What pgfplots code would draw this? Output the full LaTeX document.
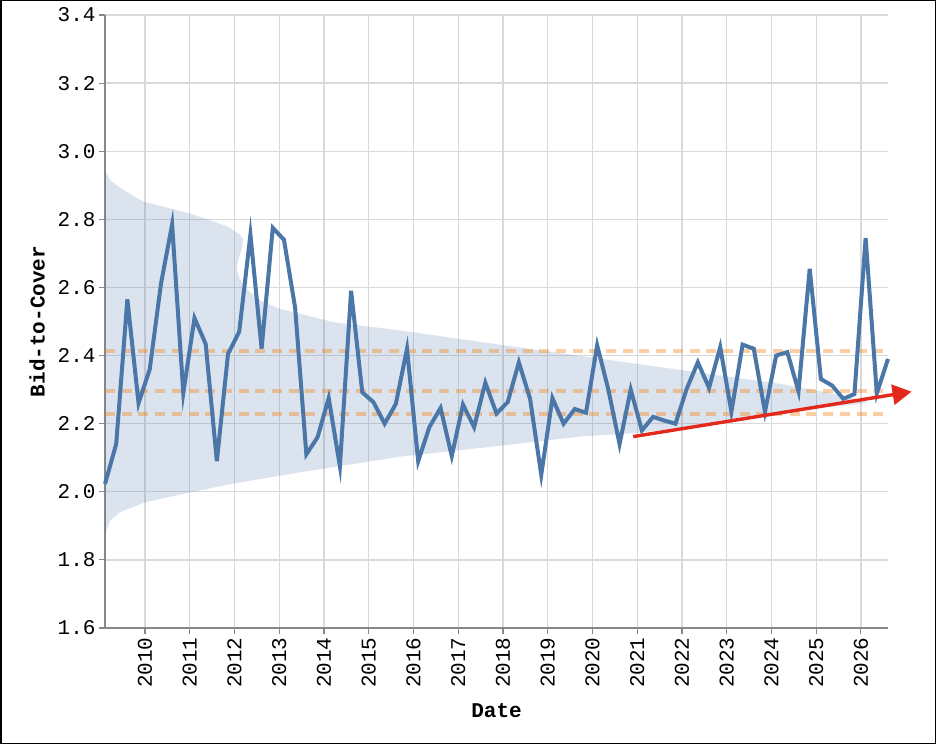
\documentclass[border=0pt]{standalone}
\usepackage{pgfplots}
\pgfplotsset{compat=1.18}
\usepackage{pgfplotstable}
\usepackage{fontspec}
\setmainfont{Liberation Mono}
\setmonofont{Liberation Mono}
\usetikzlibrary{arrows.meta}
\definecolor{lineblue}{HTML}{4A76A8}
\definecolor{bandblue}{HTML}{4C78A8}
\definecolor{dashorange}{HTML}{F58518}
\definecolor{arrowred}{HTML}{E4281B}
\definecolor{gridgray}{HTML}{D9D9D9}
\definecolor{axisgray}{HTML}{888888}

\pgfplotstableread{
x y
2009.106 2.023
2009.356 2.14
2009.606 2.565
2009.856 2.26
2010.106 2.36
2010.356 2.61
2010.606 2.785
2010.856 2.29
2011.106 2.51
2011.356 2.434
2011.606 2.09
2011.856 2.405
2012.106 2.47
2012.356 2.755
2012.606 2.42
2012.856 2.775
2013.106 2.74
2013.356 2.54
2013.606 2.11
2013.856 2.16
2014.106 2.275
2014.356 2.075
2014.606 2.59
2014.856 2.292
2015.106 2.263
2015.356 2.20
2015.606 2.258
2015.856 2.42
2016.106 2.09
2016.356 2.19
2016.606 2.246
2016.856 2.105
2017.106 2.256
2017.356 2.19
2017.606 2.32
2017.856 2.23
2018.106 2.263
2018.356 2.38
2018.606 2.273
2018.856 2.05
2019.106 2.275
2019.356 2.20
2019.606 2.243
2019.856 2.232
2020.106 2.43
2020.356 2.30
2020.606 2.14
2020.856 2.30
2021.106 2.18
2021.356 2.22
2021.606 2.209
2021.856 2.20
2022.106 2.302
2022.356 2.38
2022.606 2.305
2022.856 2.425
2023.106 2.235
2023.356 2.432
2023.606 2.42
2023.856 2.235
2024.106 2.40
2024.356 2.41
2024.606 2.295
2024.856 2.655
2025.106 2.331
2025.356 2.312
2025.606 2.273
2025.856 2.287
2026.106 2.745
2026.356 2.289
2026.606 2.39
}\bidtable

\begin{document}
\begin{tikzpicture}
\useasboundingbox (0bp,0bp) rectangle (936bp,744bp);
\draw[black, line width=1.5bp] (0.75bp,0.75bp) rectangle (935.25bp,743.25bp);
\begin{axis}[
  at={(105bp,116bp)}, anchor=south west,
  scale only axis, width=783bp, height=613bp,
  xmin=2009.106, xmax=2026.606, ymin=1.6, ymax=3.4,
  axis x line*=bottom, axis y line*=left,
  axis line style={draw=axisgray, line width=1.2bp, -},
  xtick={2010,2011,2012,2013,2014,2015,2016,2017,2018,2019,2020,2021,2022,2023,2024,2025,2026},
  xticklabels={2010,2011,2012,2013,2014,2015,2016,2017,2018,2019,2020,2021,2022,2023,2024,2025,2026},
  ytick={1.6,1.8,2.0,2.2,2.4,2.6,2.8,3.0,3.2,3.4},
  yticklabels={1.6,1.8,2.0,2.2,2.4,2.6,2.8,3.0,3.2,3.4},
  grid=major,
  major grid style={draw=gridgray, line width=1.3bp},
  tick align=outside, major tick length=6bp,
  tick style={draw=axisgray, line width=1.2bp},
  ticklabel style={font=\fontsize{21bp}{24bp}\selectfont},
  x tick label style={rotate=90, anchor=east},
  xlabel={Date}, ylabel={Bid-to-Cover},
  label style={font=\fontsize{21bp}{24bp}\selectfont\bfseries},
  x label style={at={(axis description cs:0.5,-0.1354)}, anchor=center},
  y label style={at={(axis description cs:-0.0868,0.5)}, anchor=center},
  clip=false,
]
% confidence band
\addplot[draw=none, fill=bandblue, fill opacity=0.2] coordinates {
(2009.106,2.945) (2009.218,2.915) (2009.441,2.893) (2009.821,2.862) (2010.0,2.851)
(2011.006,2.817) (2011.832,2.780) (2011.973,2.768) (2012.120,2.755) (2012.197,2.742)
(2012.170,2.715) (2012.110,2.692) (2012.065,2.670) (2012.055,2.650) (2012.110,2.628)
(2012.200,2.607) (2012.308,2.591) (2012.570,2.562) (2013.017,2.537) (2013.464,2.523)
(2014.208,2.498) (2015.698,2.474) (2017.933,2.432) (2019.944,2.395) (2024.190,2.317)
(2025.307,2.290) (2025.866,2.273) (2026.157,2.263)
(2025.866,2.256) (2025.151,2.246) (2023.743,2.218) (2022.402,2.192) (2020.905,2.172)
(2019.721,2.162) (2017.933,2.135) (2015.698,2.103) (2013.464,2.057) (2011.966,2.024)
(2011.006,1.998) (2010.0,1.969) (2009.441,1.940) (2009.218,1.915) (2009.106,1.875)
} -- cycle;
% reference lines
\addplot[dashorange, opacity=0.4, line width=4bp, dash pattern=on 10bp off 6.7bp] coordinates {(2009.106,2.413) (2026.606,2.413)};
\addplot[dashorange, opacity=0.4, line width=4bp, dash pattern=on 10bp off 6.7bp] coordinates {(2009.106,2.295) (2026.606,2.295)};
\addplot[dashorange, opacity=0.4, line width=4bp, dash pattern=on 10bp off 6.7bp] coordinates {(2009.106,2.229) (2026.606,2.229)};
% data
\addplot[lineblue, line width=4bp, line join=miter] table[x=x,y=y] {\bidtable};
% trend arrow
\addplot[arrowred, line width=3.4bp, -{Triangle[length=19bp,width=20bp]}] coordinates {(2020.912,2.162) (2027.133,2.294)};
\end{axis}
\end{tikzpicture}
\end{document}
